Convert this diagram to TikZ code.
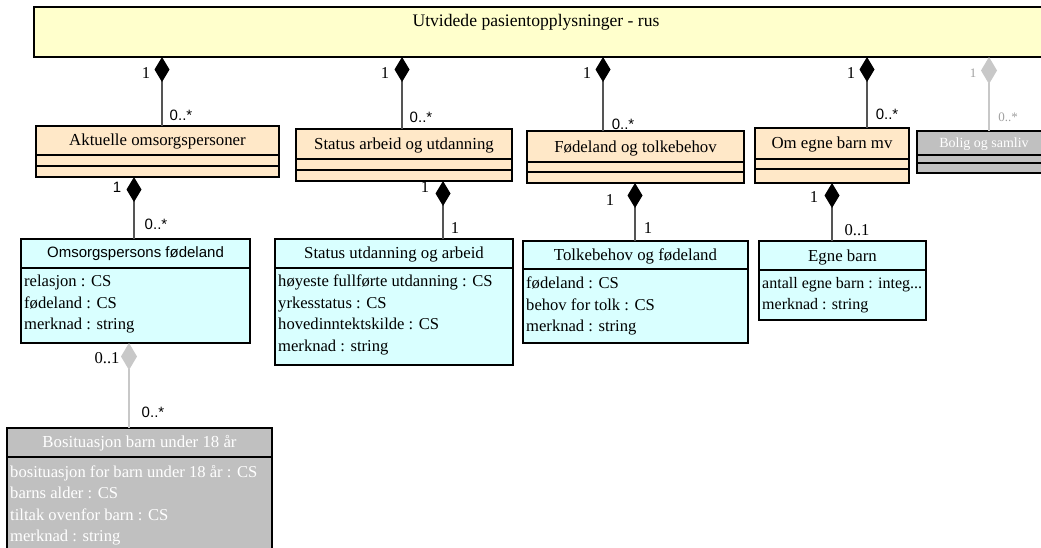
\documentclass[tikz,border=0pt]{standalone}
\usepackage{fontspec}
\setmainfont{Liberation Serif}
\newfontfamily\arialf{Liberation Sans}
\usetikzlibrary{arrows.meta}
\definecolor{topyellow}{RGB}{255,255,204}
\definecolor{peach}{RGB}{255,232,200}
\definecolor{lcyan}{RGB}{217,255,255}
\definecolor{silverc}{RGB}{192,192,192}
\definecolor{connc}{RGB}{85,85,85}
\definecolor{lgray}{RGB}{200,200,200}
\definecolor{glabel}{RGB}{160,160,160}
\begin{document}
\begin{tikzpicture}[x=1pt,y=-1pt,
  box/.style={draw=black, line width=1.2pt, anchor=north west, inner sep=0pt, outer sep=0pt},
  divl/.style={draw=black, line width=1.2pt},
  ttl/.style={font=\fontsize{16.8}{20}\selectfont, inner sep=0pt},
  wttl/.style={ttl, text=white},
  attr/.style={font=\fontsize{16.6}{21.4}\selectfont, align=left, anchor=north west, inner sep=0pt},
  wattr/.style={attr, text=white},
  conn/.style={draw=connc, line width=1.3pt, -{Diamond[length=25pt,width=15pt,color=black]}},
  gconn/.style={draw=lgray, line width=1.3pt, -{Diamond[length=27pt,width=16pt,color=lgray]}},
  mser/.style={font=\fontsize{16.6}{18}\selectfont, inner sep=0pt},
  msans/.style={font=\arialf\fontsize{15}{18}\selectfont, inner sep=0pt},
  gser/.style={font=\fontsize{13}{16}\selectfont, inner sep=0pt, text=glabel},
]
\useasboundingbox (0,0) rectangle (1041,547);
\clip (0,0) rectangle (1041,547);

% ---------- top class ----------
\node[box, fill=topyellow, minimum width=1030, minimum height=50] (utv) at (34,7) {};
\node[ttl, font=\fontsize{17.6}{20}\selectfont] (utvt) at (536,22) {Utvidede pasientopplysninger - rus};

% ---------- second row ----------
\node[box, fill=peach, minimum width=243, minimum height=51] (akt) at (36,126) {};
\node[ttl] (aktt) at (157.5,141) {Aktuelle omsorgspersoner};
\draw[divl] (36,155) -- (279,155);
\draw[divl] (36,166) -- (279,166);

\node[box, fill=peach, minimum width=216, minimum height=52] (sta) at (296,129) {};
\node[ttl] (stat) at (404,145) {Status arbeid og utdanning};
\draw[divl] (296,159) -- (512,159);
\draw[divl] (296,170) -- (512,170);

\node[box, fill=peach, minimum width=217, minimum height=52] (fod) at (527,131) {};
\node[ttl] (fodt) at (635.5,148) {Fødeland og tolkebehov};
\draw[divl] (527,162) -- (744,162);
\draw[divl] (527,172) -- (744,172);

\node[box, fill=peach, minimum width=154, minimum height=55] (omb) at (755,128) {};
\node[ttl] (ombt) at (832,144) {Om egne barn mv};
\draw[divl] (755,159) -- (909,159);
\draw[divl] (755,169) -- (909,169);

\node[box, fill=silverc, minimum width=150, minimum height=42] (bol) at (917,131) {};
\node[wttl, font=\fontsize{14}{16}\selectfont] (bolt) at (984,144) {Bolig og samliv};
\draw[divl] (917,155) -- (1067,155);
\draw[divl] (917,163) -- (1067,163);

% ---------- third row ----------
\node[box, fill=lcyan, minimum width=229, minimum height=104] (oms) at (21,239) {};
\node[inner sep=0pt, font=\arialf\fontsize{15}{18}\selectfont] (omst) at (135.5,254) {Omsorgspersons fødeland};
\draw[divl] (21,268) -- (250,268);
\node[attr] (omsa) at (24,275) {relasjon : CS\\fødeland : CS\\merknad : string};

\node[box, fill=lcyan, minimum width=238, minimum height=126] (sua) at (275,239) {};
\node[ttl] (suat) at (394,254) {Status utdanning og arbeid};
\draw[divl] (275,268) -- (513,268);
\node[attr] (suaa) at (278,275) {høyeste fullførte utdanning : CS\\yrkesstatus : CS\\hovedinntektskilde : CS\\merknad : string};

\node[box, fill=lcyan, minimum width=225, minimum height=102] (tol) at (523,241) {};
\node[ttl] (tolt) at (635.5,256) {Tolkebehov og fødeland};
\draw[divl] (523,269) -- (748,269);
\node[attr] (tola) at (526,277) {fødeland : CS\\behov for tolk : CS\\merknad : string};

\node[box, fill=lcyan, minimum width=167, minimum height=79] (egb) at (759,241) {};
\node[ttl] (egbt) at (842.5,257) {Egne barn};
\draw[divl] (759,270) -- (926,270);
\node[attr, font=\fontsize{16}{21.4}\selectfont] (egba) at (762,277) {antall egne barn : integ...\\merknad : string};

% ---------- fourth row ----------
\node[box, fill=silverc, minimum width=265, minimum height=140] (bos) at (7,428) {};
\node[wttl] (bost) at (139.5,443) {Bosituasjon barn under 18 år};
\draw[divl] (7,457) -- (272,457);
\node[wattr] (bosa) at (10,465) {bosituasjon for barn under 18 år : CS\\barns alder : CS\\tiltak ovenfor barn : CS\\merknad : string};

% ---------- connectors ----------
\coordinate (x1) at (162,0);
\coordinate (x2) at (402,0);
\coordinate (x3) at (603,0);
\coordinate (x4) at (867,0);
\coordinate (x5) at (989,0);
\coordinate (x6) at (134,0);
\coordinate (x7) at (443,0);
\coordinate (x8) at (635,0);
\coordinate (x9) at (832,0);
\coordinate (x10) at (129,0);

\draw[conn] (x1 |- akt.north) -- (x1 |- utv.south);
\draw[conn] (x2 |- sta.north) -- (x2 |- utv.south);
\draw[conn] (x3 |- fod.north) -- (x3 |- utv.south);
\draw[conn] (x4 |- omb.north) -- (x4 |- utv.south);
\draw[gconn] (x5 |- bol.north) -- (x5 |- utv.south);
\draw[conn] (x6 |- oms.north) -- (x6 |- akt.south);
\draw[conn] (x7 |- sua.north) -- (x7 |- sta.south);
\draw[conn] (x8 |- tol.north) -- (x8 |- fod.south);
\draw[conn] (x9 |- egb.north) -- (x9 |- omb.south);
\draw[gconn] (x10 |- bos.north) -- (x10 |- oms.south);

% ---------- multiplicities ----------
\node[mser] (m1a) at (146,73) {1};
\node[msans] (m1b) at (181,115) {0..*};
\node[mser] (m2a) at (385,73) {1};
\node[msans] (m2b) at (421,117) {0..*};
\node[mser] (m3a) at (587,73) {1};
\node[msans] (m3b) at (623,124) {0..*};
\node[mser] (m4a) at (851,73) {1};
\node[msans] (m4b) at (887,114) {0..*};
\node[gser] (m5a) at (973,73) {1};
\node[gser] (m5b) at (1008,117) {0..*};
\node[msans] (m6a) at (117,187) {1};
\node[msans] (m6b) at (156,224) {0..*};
\node[mser] (m7a) at (425,187) {1};
\node[mser] (m7b) at (455,228) {1};
\node[mser] (m8a) at (610,200) {1};
\node[mser] (m8b) at (648,228) {1};
\node[mser] (m9a) at (814,197) {1};
\node[mser] (m9b) at (857,230) {0..1};
\node[mser] (m10a) at (107,358) {0..1};
\node[msans] (m10b) at (153,412) {0..*};
\end{tikzpicture}
\end{document}
